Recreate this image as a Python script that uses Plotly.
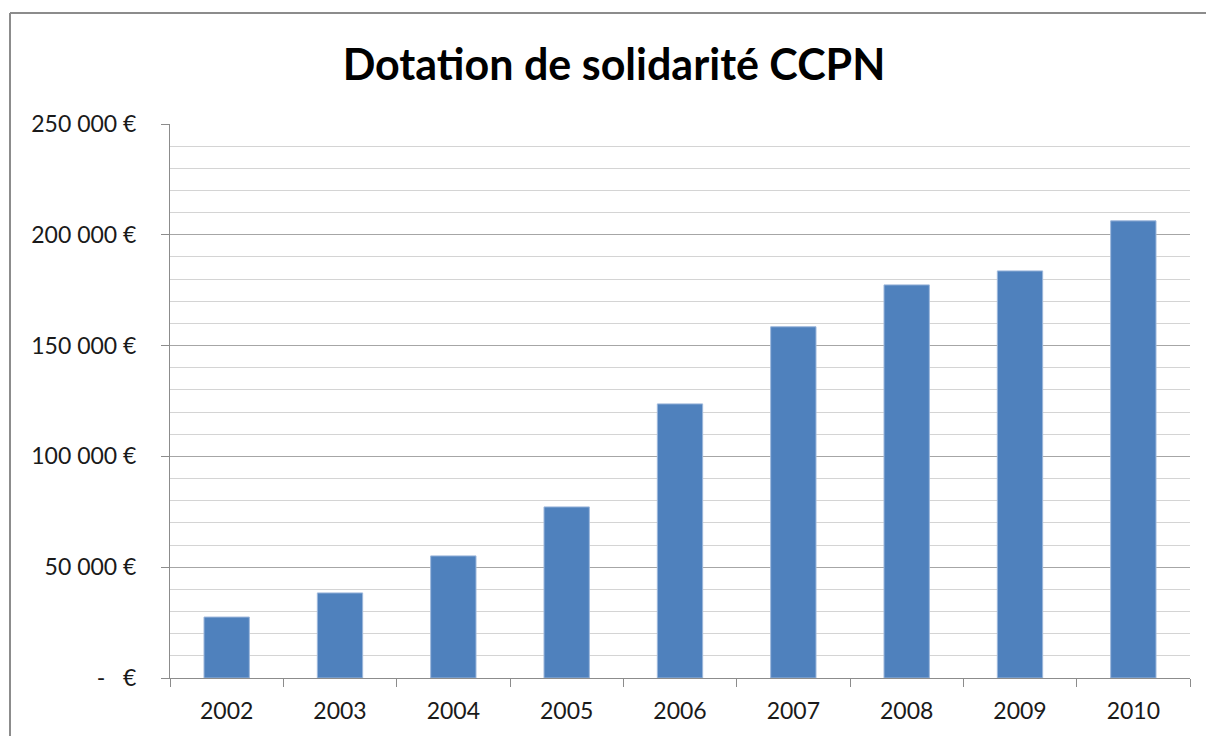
import plotly.graph_objects as go

years = ["2002", "2003", "2004", "2005", "2006", "2007", "2008", "2009", "2010"]
values = [27500, 38400, 55100, 77200, 123700, 158500, 177400, 183700, 206300]
tick_vals = [0, 50000, 100000, 150000, 200000, 250000]
tick_text = ["-   €", "50 000 €", "100 000 €", "150 000 €", "200 000 €", "250 000 €"]
title_text = "Dotation de solidarité CCPN"

W, H = 1206, 736
L, R, T, B = 170, 1190, 124, 678

fig = go.Figure()
fig.add_trace(go.Bar(
    x=years, y=values,
    marker=dict(color="#4F81BD", line=dict(color="#9DB7DB", width=1)),
    width=0.40,
))

pw, ph = R - L, B - T
def px2paper_x(px):
    return (px - L) / pw
def px2paper_y(py):
    return (B - py) / ph

bx, by = 10, 13
# outer chart border: left and top edges only (others fall outside the view)
fig.add_shape(type="line", xref="paper", yref="paper",
              x0=px2paper_x(bx), x1=px2paper_x(bx), y0=px2paper_y(H + 20), y1=px2paper_y(by),
              line=dict(color="#8C8C8C", width=2), layer="below")
fig.add_shape(type="line", xref="paper", yref="paper",
              x0=px2paper_x(bx), x1=px2paper_x(W + 20), y0=px2paper_y(by), y1=px2paper_y(by),
              line=dict(color="#8C8C8C", width=2), layer="below")

fig.update_layout(
    width=W, height=H,
    margin=dict(l=L, r=W - R, t=T, b=H - B),
    paper_bgcolor="white", plot_bgcolor="white",
    showlegend=False,
    font=dict(family="Lato, Liberation Sans, sans-serif", color="#1a1a1a"),
    title=dict(text="<b>" + title_text + "</b>", x=614 / W, xanchor="center", xref="container",
               y=1 - 65 / H, yanchor="middle", yref="container",
               font=dict(size=43, color="black", family="Lato, Liberation Sans, sans-serif")),
    xaxis=dict(
        type="category", tickson="boundaries", ticks="outside", ticklen=8, tickcolor="#8C8C8C",
        showline=True, linecolor="#8C8C8C", linewidth=1, showgrid=False,
        tickfont=dict(size=23, color="#1a1a1a"), range=[-0.5, 8.5], fixedrange=True,
        ticklabelstandoff=12,
    ),
    yaxis=dict(
        range=[0, 250000], tickvals=tick_vals, ticktext=tick_text,
        ticks="outside", ticklen=8, tickcolor="#8C8C8C",
        showline=True, linecolor="#8C8C8C", linewidth=1,
        showgrid=True, gridcolor="#A6A6A6", gridwidth=1, zeroline=False,
        tickfont=dict(size=23, color="#1a1a1a"),
        ticklabelstandoff=20,
        minor=dict(dtick=10000, showgrid=True, gridcolor="#D4D4D4", gridwidth=1, ticks=""),
    ),
    bargap=0.6,
)

fig.write_html(
    "out.html",
    config={"displayModeBar": False},
    post_script="document.body.style.margin='0px';document.body.style.overflow='hidden';",
)
